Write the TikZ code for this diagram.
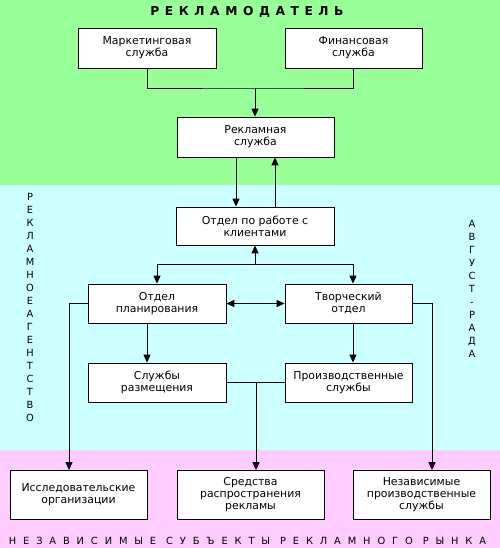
\documentclass[tikz,border=0pt]{standalone}
\usepackage{fontspec}
\setmainfont{DejaVu Sans}
\newfontfamily\titlefont[LetterSpace=45]{DejaVu Sans}
\newfontfamily\bottomfont[LetterSpace=70]{DejaVu Sans}
\usetikzlibrary{arrows.meta}
\definecolor{greenbg}{RGB}{153,255,153}
\definecolor{cyanbg}{RGB}{204,255,255}
\definecolor{pinkbg}{RGB}{255,204,255}
\tikzset{
  box/.style={draw, fill=white, line width=0.5pt, inner sep=0pt, align=center,
    font=\fontsize{6.2}{6.8}\selectfont},
  sideletters/.style={align=center, font=\fontsize{5.6}{7.4}\selectfont},
  >={Triangle[width=4pt,length=4.5pt]}
}
\begin{document}
\begin{tikzpicture}[line width=0.5pt]

        %background bands
        \fill [greenbg] (0,0) rectangle (10,-3.7);
        \fill [cyanbg] (0,-3.7) rectangle (10,-9.0);
        \fill [pinkbg] (0,-9.0) rectangle (10,-10.96);
        \useasboundingbox (0,0) rectangle (10,-10.96);

        %band titles
        \node (advertiser) at (4.94,-0.24) {\titlefont\bfseries\fontsize{7}{8}\selectfont РЕКЛАМОДАТЕЛЬ};
        \node (market) at (4.95,-10.82) {\bottomfont\fontsize{5.6}{7}\selectfont НЕЗАВИСИМЫЕ СУБЪЕКТЫ РЕКЛАМНОГО РЫНКА};
        \node [sideletters] (agency) at (0.6,-6.15) {Р\\Е\\К\\Л\\А\\М\\Н\\О\\Е\\А\\Г\\Е\\Н\\Т\\С\\Т\\В\\О};
        \node [sideletters] (avgust) at (9.44,-5.78) {А\\В\\Г\\У\\С\\Т\\-\\Р\\А\\Д\\А};

        %advertiser services
        \node [box, minimum width=2.76cm, minimum height=0.8cm] (mkt) at (2.94,-0.96) {Маркетинговая\\служба};
        \node [box, minimum width=2.74cm, minimum height=0.8cm] (fin) at (7.07,-0.96) {Финансовая\\служба};
        \node [box, minimum width=3.14cm, minimum height=0.8cm] (ad) at (5.11,-2.74) {Рекламная\\служба};

        %joining line from both services to the ad service
        \coordinate (join) at (5.1,-1.76);
        \draw (mkt.south) |- (join) -| (fin.south);
        \draw [->] (join) -- (ad.north -| join);

        %agency departments
        \node [box, minimum width=3.16cm, minimum height=0.76cm] (client) at (5.1,-4.52) {Отдел по работе с\\клиентами};
        \node [box, minimum width=2.76cm, minimum height=0.78cm] (plan) at (3.14,-6.07) {Отдел\\планирования};
        \node [box, minimum width=2.54cm, minimum height=0.78cm] (creat) at (6.97,-6.07) {Творческий\\отдел};
        \node [box, minimum width=2.76cm, minimum height=0.78cm] (place) at (3.14,-7.65) {Службы\\размещения};
        \node [box, minimum width=2.54cm, minimum height=0.78cm] (prod) at (6.97,-7.65) {Производственные\\службы};

        %ad service to and from client department
        \draw [->] ([xshift=-0.39cm]ad.south) -- ([xshift=-0.39cm]ad.south |- client.north);
        \draw [->] ([xshift=0.39cm]ad.south |- client.north) -- ([xshift=0.39cm]ad.south);

        %client department fork
        \coordinate (fork) at (5.1,-5.28);
        \draw [->] (fork) -- (client.south);
        \draw [->] (fork) -| (plan.north);
        \draw [->] (fork) -| ([xshift=0.09cm]creat.north);
        \draw [<->] (plan.east) -- (creat.west);

        %down to placement and production
        \draw [->] ([xshift=-0.2cm]plan.south) -- ([xshift=-0.2cm]place.north);
        \draw [->] ([xshift=0.09cm]creat.south) -- ([xshift=0.09cm]prod.north);

        %independent market subjects
        \node [box, minimum width=2.74cm, minimum height=0.98cm] (research) at (1.57,-9.9) {Исследовательские\\организации};
        \node [box, minimum width=2.94cm, minimum height=0.98cm] (media) at (5.01,-9.9) {Средства\\распространения\\рекламы};
        \node [box, minimum width=2.74cm, minimum height=0.98cm] (indep) at (8.43,-9.9) {Независимые\\производственные\\службы};

        %lines to the bottom row
        \draw [->] (plan.west) -| ([xshift=-0.19cm]research.north);
        \draw [->] (creat.east) -| ([xshift=0.21cm]indep.north);
        \coordinate (merge) at (5.12,-7.64);
        \draw (place.east |- merge) -- (prod.west |- merge);
        \draw [->] (merge) -- (media.north -| merge);

\end{tikzpicture}
\end{document}
